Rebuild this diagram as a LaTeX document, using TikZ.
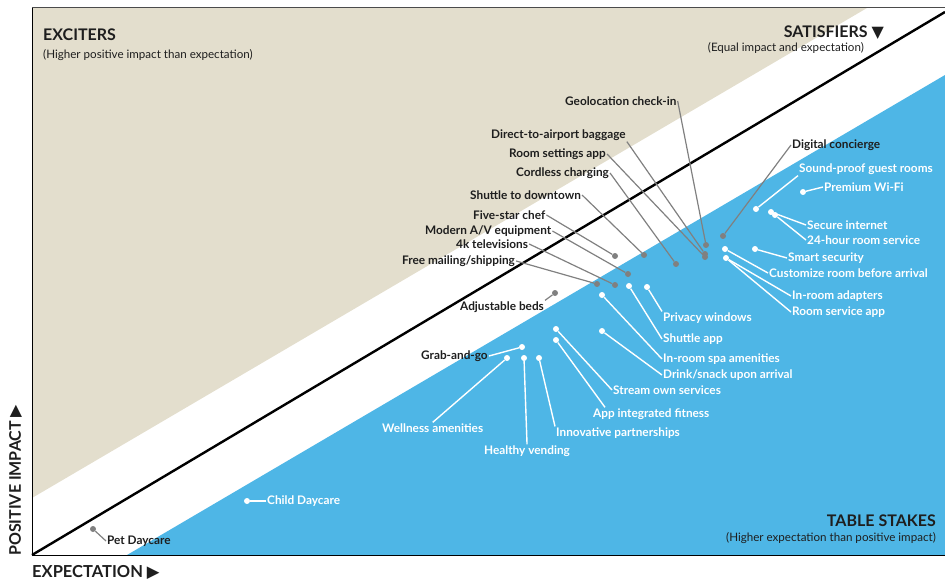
\documentclass[tikz,border=0pt]{standalone}
\usepackage{fontspec}
\setmainfont{Lato}
\newfontfamily\symfont{DejaVu Sans}
\usepackage{tikz}

\definecolor{sand}{RGB}{227,222,205}
\definecolor{sky}{RGB}{78,182,230}
\definecolor{pin}{RGB}{128,128,128}
\definecolor{ink}{RGB}{30,30,30}

\tikzset{
  lbl/.style={inner sep=1pt, text=ink, font=\fontsize{11.8}{13}\selectfont\bfseries},
  lblw/.style={lbl, text=white},
  dotg/.style={shape=circle, fill=pin, inner sep=0pt, minimum size=6pt},
  dotw/.style={dotg, fill=white},
  lead/.style={-, draw=pin, line width=1.2pt},
  leadw/.style={-, draw=white, line width=1.4pt},
  head/.style={inner sep=0pt, text=ink, font=\fontsize{16}{18}\selectfont\bfseries},
  note/.style={inner sep=0pt, text=ink, font=\fontsize{11.6}{13}\selectfont}
}

\begin{document}
\begin{tikzpicture}[x=1pt, y=-1pt]

    \useasboundingbox (0,0) rectangle (945,580);

    % zones
    \fill[sand] (32,8) -- (867,8) -- (32,498) -- cycle;
    \fill[sky] (127,555) -- (945,75) -- (945,555) -- cycle;
    \draw[pin, line width=0.8pt] (32,8) -- (32,555) -- (945,555);
    \draw[ink!80, line width=1pt] (32,8) -- (945,8);
    \draw[black, line width=2.4pt] (32,555) -- (945,12);

    % zone titles
    \node[head, anchor=west] (exc) at (43,35) {EXCITERS};
    \node[note, anchor=west] (excn) at (43,55) {(Higher positive impact than expectation)};
    \node[head, anchor=east] (sat) at (884,33) {SATISFIERS {\symfont ▼}};
    \node[note, anchor=east] (satn) at (864,48) {(Equal impact and expectation)};
    \node[head, anchor=east] (tbl) at (936,521) {TABLE STAKES};
    \node[note, anchor=east] (tbln) at (936,538) {(Higher expectation than positive impact)};

    % axes
    \node[head, font=\fontsize{16.5}{18}\selectfont\bfseries, anchor=west] (xax) at (32,572) {EXPECTATION {\symfont ▶}};
    \node[head, rotate=90, anchor=west] (yax) at (16,556) {POSITIVE IMPACT {\symfont ▶}};

    % dots
    \node[dotg] (dgeo) at (706,245) {};
    \node[dotg] (ddab) at (705,254) {};
    \node[dotg] (drsa) at (705,257) {};
    \node[dotg] (dcch) at (676,264) {};
    \node[dotg] (dshd) at (644,255) {};
    \node[dotg] (dfsc) at (615,256) {};
    \node[dotg] (dmav) at (628,274) {};
    \node[dotg] (dktv) at (615,285) {};
    \node[dotg] (dfms) at (597,284) {};
    \node[dotg] (dadj) at (555,293) {};
    \node[dotg] (ddco) at (723,236) {};
    \node[dotg] (dpet) at (93,529) {};

    \node[dotw] (dspg) at (756,209) {};
    \node[dotw] (dpwf) at (803,192) {};
    \node[dotw] (dsin) at (771,212) {};
    \node[dotw] (dhrs) at (775,215) {};
    \node[dotw] (dsms) at (755,249) {};
    \node[dotw] (dcrb) at (725,249) {};
    \node[dotw] (dira) at (726,258) {};
    \node[dotw] (dprw) at (647,287) {};
    \node[dotw] (dsha) at (629,286) {};
    \node[dotw] (dirs) at (602,295) {};
    \node[dotw] (ddsu) at (602,331) {};
    \node[dotw] (dsos) at (556,329) {};
    \node[dotw] (daif) at (556,340) {};
    \node[dotw] (dinp) at (539,358) {};
    \node[dotw] (dhve) at (524,358) {};
    \node[dotw] (dwel) at (507,358) {};
    \node[dotw] (dgrb) at (522,347) {};
    \node[dotw] (dchd) at (247,501) {};

    % labels in the grey and white band
    \node[lbl, anchor=west] (geo) at (564,101) {Geolocation check-in};
    \node[lbl, anchor=west] (dab) at (490,135) {Direct-to-airport baggage};
    \node[lbl, anchor=west] (rsa) at (508,154) {Room settings app};
    \node[lbl, anchor=west] (cch) at (515,173) {Cordless charging};
    \node[lbl, anchor=west] (shd) at (469,195) {Shuttle to downtown};
    \node[lbl, anchor=west] (fsc) at (472,215) {Five-star chef};
    \node[lbl, anchor=west] (mav) at (424,231) {Modern A/V equipment};
    \node[lbl, anchor=west] (ktv) at (455,244) {4k televisions};
    \node[lbl, anchor=west] (fms) at (401,261) {Free mailing/shipping};
    \node[lbl, anchor=west] (adj) at (459,307) {Adjustable beds};
    \node[lbl, anchor=west] (dco) at (791,145) {Digital concierge};
    \node[lbl, anchor=west] (grb) at (420,356) {Grab-and-go};
    \node[lbl, anchor=west] (pet) at (106,541) {Pet Daycare};

    % labels in the blue zone
    \node[lblw, anchor=west] (spg) at (798,169) {Sound-proof guest rooms};
    \node[lblw, anchor=west] (pwf) at (823,187) {Premium Wi-Fi};
    \node[lblw, anchor=west] (sin) at (806,225) {Secure internet};
    \node[lblw, anchor=west] (hrs) at (806,240) {24-hour room service};
    \node[lblw, anchor=west] (sms) at (787,258) {Smart security};
    \node[lblw, anchor=west] (crb) at (768,273) {Customize room before arrival};
    \node[lblw, anchor=west] (ira) at (791,296) {In-room adapters};
    \node[lblw, anchor=west] (rsv) at (791,312) {Room service app};
    \node[lblw, anchor=west] (prw) at (662,318) {Privacy windows};
    \node[lblw, anchor=west] (sha) at (662,339) {Shuttle app};
    \node[lblw, anchor=west] (irs) at (662,359) {In-room spa amenities};
    \node[lblw, anchor=west] (dsu) at (662,375) {Drink/snack upon arrival};
    \node[lblw, anchor=west] (sos) at (612,390) {Stream own services};
    \node[lblw, anchor=west] (aif) at (592,414) {App integrated fitness};
    \node[lblw, anchor=west] (inp) at (555,433) {Innovative partnerships};
    \node[lblw, anchor=west] (hve) at (483,451) {Healthy vending};
    \node[lblw, anchor=west] (wel) at (381,428) {Wellness amenities};
    \node[lblw, anchor=west] (chd) at (266,501) {Child Daycare};

    % leaders
    \path[lead] (geo.east) edge (dgeo);
    \path[lead] (dab.south east) edge (ddab);
    \path[lead] (rsa.east) edge (drsa);
    \path[lead] (cch.east) edge (dcch);
    \path[lead] (shd.east) edge (dshd);
    \path[lead] (fsc.east) edge (dfsc);
    \path[lead] (mav.east) edge (dmav);
    \path[lead] (ktv.east) edge (dktv);
    \path[lead] (fms.east) edge (dfms);
    \path[lead] (adj.north east) edge (dadj);
    \path[lead] (dco.west) edge (ddco);
    \path[lead] (pet.west) edge (dpet);

    \path[leadw] (grb.east) edge (dgrb);
    \path[leadw] (spg.south west) edge (dspg);
    \path[leadw] (pwf.west) edge (dpwf);
    \path[leadw] (sin.west) edge (dsin);
    \path[leadw] (hrs.west) edge (dhrs);
    \path[leadw] (sms.west) edge (dsms);
    \path[leadw] (crb.west) edge (dcrb);
    \path[leadw] (ira.west) edge (dira);
    \path[leadw] (rsv.west) edge (dira);
    \path[leadw] (prw.north west) edge (dprw);
    \path[leadw] (sha.west) edge (dsha);
    \path[leadw] (irs.west) edge (dirs);
    \path[leadw] (dsu.west) edge (ddsu);
    \path[leadw] (sos.west) edge (dsos);
    \path[leadw] ([xshift=13pt]aif.north west) edge (daif);
    \path[leadw] (inp.north west) edge (dinp);
    \path[leadw] (hve.north) edge (dhve);
    \path[leadw] (wel.north) edge (dwel);
    \path[leadw] (chd.west) edge (dchd);

\end{tikzpicture}
\end{document}
